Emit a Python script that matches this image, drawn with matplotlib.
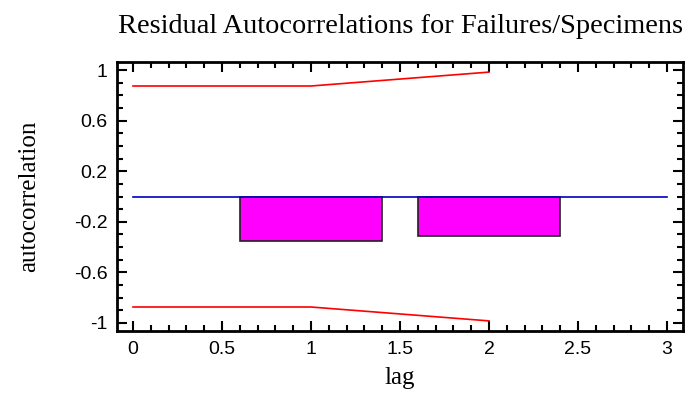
import numpy as np
import matplotlib.pyplot as plt
from matplotlib.ticker import MultipleLocator

# residual autocorrelations
lags = [1, 2]
acf = [-0.352, -0.313]

# 95% probability limits
lim_x = [0, 1, 2]
lim_upper = [0.875, 0.875, 0.985]
lim_lower = [-0.875, -0.875, -0.985]

fig = plt.figure(figsize=(6.87, 3.99), dpi=100)
ax = fig.add_axes([117/687, 1 - 331/399, 566/687, 269/399])

ax.bar(lags, acf, width=0.8, color="#ff00ff", edgecolor="#202020", linewidth=1.2, zorder=2)
ax.plot([0, 3], [0, 0], color="#0000c0", linewidth=1.2, zorder=3)
ax.plot(lim_x, lim_upper, color="red", linewidth=1.2)
ax.plot(lim_x, lim_lower, color="red", linewidth=1.2)

ax.set_xlim(-0.09, 3.09)
ax.set_ylim(-1.065, 1.065)
ax.set_xticks([0, 0.5, 1, 1.5, 2, 2.5, 3])
ax.set_xticklabels(["0", "0.5", "1", "1.5", "2", "2.5", "3"])
ax.set_yticks([-1, -0.6, -0.2, 0.2, 0.6, 1])
ax.set_yticklabels(["-1", "-0.6", "-0.2", "0.2", "0.6", "1"])
ax.xaxis.set_minor_locator(MultipleLocator(0.1))
ax.yaxis.set_minor_locator(MultipleLocator(0.1))
ax.tick_params(which="both", direction="in", top=True, right=True, width=1.5,
               labelfontfamily="Liberation Sans", labelsize=14, pad=7)
ax.tick_params(which="major", length=7)
ax.tick_params(which="minor", length=4)
for s in ax.spines.values():
    s.set_linewidth(2)

serif = "Liberation Serif"
ax.set_title("Residual Autocorrelations for Failures/Specimens", family=serif, fontsize=20.4, pad=21)
ax.set_xlabel("lag", family=serif, fontsize=18, labelpad=7)
ax.set_ylabel("autocorrelation", family=serif, fontsize=18, labelpad=24)

fig.savefig("out.png", dpi=100)
